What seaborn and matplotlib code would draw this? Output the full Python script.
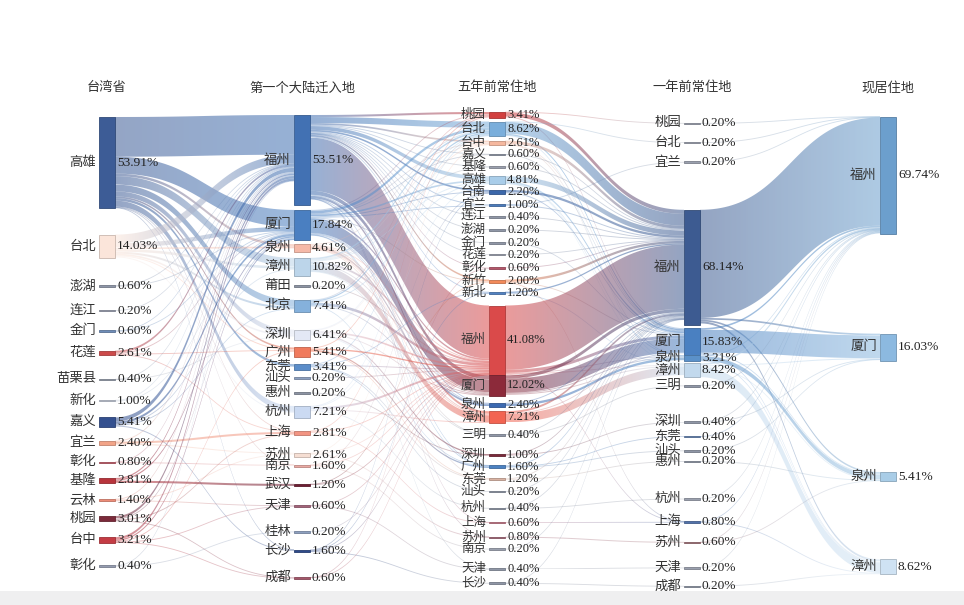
import numpy as np
import matplotlib
matplotlib.use('Agg')
import matplotlib.pyplot as plt
from matplotlib.patches import Polygon
import seaborn as sns

sns.set_theme(style='white')
plt.rcParams['font.family'] = ['Liberation Serif', 'Noto Sans CJK SC', 'DejaVu Sans']

# ========================
# DATA
# ========================

headers = ['台湾省', '第一个大陆迁入地', '五年前常住地', '一年前常住地', '现居住地']

# 1. 台湾省 (第二个彰化用 #2 区分)
names1 = ['高雄', '台北', '澎湖', '连江', '金门', '花莲', '苗栗县', '新化', '嘉义', '宜兰',
          '彰化', '基隆', '云林', '桃园', '台中', '彰化#2']
vals1 = [53.91, 14.03, 0.60, 0.20, 0.60, 2.61, 0.40, 1.00, 5.41, 2.40,
         0.80, 2.81, 1.40, 3.01, 3.21, 0.40]
colors1 = ['#3d5c96', '#fbe5da', '#8e96a8', '#9aa0b0', '#6f8db8', '#cc4a4a', '#959cab', '#c3cbd9',
           '#34508f', '#f2a488', '#c25a68', '#b8343c', '#ec8c78', '#7b2a3a', '#c43c44', '#959cb0']

# 2. 第一个大陆迁入地
names2 = ['福州', '厦门', '泉州', '漳州', '莆田', '北京', '深圳', '广州', '东莞', '汕头',
          '惠州', '杭州', '上海', '苏州', '南京', '武汉', '天津', '桂林', '长沙', '成都']
vals2 = [53.51, 17.84, 4.61, 10.82, 0.20, 7.41, 6.41, 5.41, 3.41, 0.20,
         0.20, 7.21, 2.81, 2.61, 1.60, 1.20, 0.60, 0.20, 1.60, 0.60]
colors2 = ['#4271b3', '#4a7fc1', '#f5b9a8', '#bcd5ea', '#8c93a3', '#85b1dc', '#e3e8f5', '#f07a5c',
           '#5b8dc9', '#8da0bf', '#8c93a3', '#cbdaf2', '#f29482', '#f5ded3', '#eaa9a3', '#6e1f33',
           '#a3647a', '#8da0bf', '#2f4b8a', '#a4576a']

# 3. 五年前常住地
names3 = ['桃园', '台北', '台中', '嘉义', '基隆', '高雄', '台南', '宜兰', '连江', '澎湖',
          '金门', '花莲', '彰化', '新竹', '新北', '福州', '厦门', '泉州', '漳州', '三明',
          '深圳', '广州', '东莞', '汕头', '杭州', '上海', '苏州', '南京', '天津', '长沙']
vals3 = [3.41, 8.62, 2.61, 0.60, 0.60, 4.81, 2.20, 1.00, 0.40, 0.20,
         0.20, 0.20, 0.60, 2.00, 1.20, 41.08, 12.02, 2.40, 7.21, 0.40,
         1.00, 1.60, 1.20, 0.20, 0.40, 0.60, 0.80, 0.20, 0.40, 0.40]
colors3 = ['#d2403f', '#7aaedb', '#f5b89f', '#8f96a6', '#9aa0ae', '#a9cde9', '#3b67aa', '#4b7bba',
           '#8f96a6', '#8f96a6', '#8f96a6', '#9aa0ae', '#b4566a', '#f28a5a', '#5282c2', '#da4a4a',
           '#8c2a3a', '#3b69b1', '#f26452', '#8f96a6', '#7b2a3b', '#4c82c2', '#d9b2a2', '#8f96a6',
           '#8f96a6', '#c47586', '#a56678', '#9aa0ae', '#8f96a6', '#8f96a6']

# 4. 一年前常住地
names4 = ['桃园', '台北', '宜兰', '福州', '厦门', '泉州', '漳州', '三明', '深圳', '东莞',
          '汕头', '惠州', '杭州', '上海', '苏州', '天津', '成都']
vals4 = [0.20, 0.20, 0.20, 68.14, 15.83, 3.21, 8.42, 0.20, 0.40, 0.40,
         0.20, 0.20, 0.20, 0.80, 0.60, 0.20, 0.20]
colors4 = ['#9aa0ae', '#9aa0ae', '#9aa0ae', '#3d5b91', '#4a80c1', '#5b91c9', '#c2d9ed', '#8f96a6',
           '#8f96a6', '#6282b2', '#8f96a6', '#8f96a6', '#9aa0ae', '#5272aa', '#a37279', '#9aa0ae',
           '#8f96a6']

# 5. 现居住地
names5 = ['福州', '厦门', '泉州', '漳州']
vals5 = [69.74, 16.03, 5.41, 8.62]
colors5 = ['#6c9fcd', '#8cb9e0', '#a9cde7', '#cfe2f3']

# 流向 (来源, 去向, %)
flows12 = [
    ('高雄', '福州', 23.5), ('高雄', '厦门', 10.0), ('高雄', '泉州', 1.5), ('高雄', '漳州', 5.0),
    ('高雄', '北京', 4.0), ('高雄', '深圳', 3.0), ('高雄', '广州', 1.0), ('高雄', '东莞', 1.5),
    ('高雄', '杭州', 3.5), ('高雄', '上海', 0.4), ('高雄', '南京', 0.2), ('高雄', '长沙', 0.2),
    ('台北', '福州', 5.0), ('台北', '厦门', 2.6), ('台北', '泉州', 1.0), ('台北', '漳州', 1.5),
    ('台北', '北京', 1.2), ('台北', '深圳', 1.0), ('台北', '广州', 0.6), ('台北', '杭州', 0.6),
    ('澎湖', '福州', 0.4), ('澎湖', '厦门', 0.2), ('连江', '福州', 0.2),
    ('金门', '厦门', 0.4), ('金门', '福州', 0.2),
    ('花莲', '福州', 1.2), ('花莲', '厦门', 0.6), ('花莲', '广州', 0.4), ('花莲', '上海', 0.4),
    ('苗栗县', '福州', 0.2), ('苗栗县', '深圳', 0.2), ('新化', '福州', 0.6), ('新化', '厦门', 0.4),
    ('嘉义', '福州', 2.4), ('嘉义', '厦门', 1.4), ('嘉义', '漳州', 0.6), ('嘉义', '北京', 0.4),
    ('嘉义', '长沙', 0.6),
    ('宜兰', '上海', 1.2), ('宜兰', '福州', 0.6), ('宜兰', '苏州', 0.6),
    ('彰化', '福州', 0.4), ('彰化', '南京', 0.4),
    ('基隆', '武汉', 1.2), ('基隆', '福州', 0.8), ('基隆', '厦门', 0.8),
    ('云林', '福州', 0.6), ('云林', '苏州', 0.4), ('云林', '天津', 0.4),
    ('桃园', '福州', 1.4), ('桃园', '厦门', 0.6), ('桃园', '上海', 0.6), ('桃园', '成都', 0.4),
    ('台中', '福州', 1.4), ('台中', '厦门', 0.8), ('台中', '广州', 0.6), ('台中', '天津', 0.2),
    ('台中', '成都', 0.2),
    ('彰化#2', '福州', 0.2), ('彰化#2', '桂林', 0.2),
]

flows23 = [
    ('福州', '桃园', 1.2), ('福州', '台北', 3.6), ('福州', '台中', 1.0), ('福州', '嘉义', 0.4),
    ('福州', '基隆', 0.4), ('福州', '高雄', 2.2), ('福州', '台南', 1.0), ('福州', '宜兰', 0.6),
    ('福州', '连江', 0.4), ('福州', '澎湖', 0.2), ('福州', '金门', 0.2), ('福州', '花莲', 0.2),
    ('福州', '彰化', 0.4), ('福州', '新竹', 1.0), ('福州', '新北', 0.6), ('福州', '福州', 31.4),
    ('福州', '厦门', 2.4), ('福州', '泉州', 0.6), ('福州', '漳州', 1.4), ('福州', '广州', 0.2),
    ('福州', '上海', 0.2), ('福州', '苏州', 0.2),
    ('厦门', '福州', 1.0), ('厦门', '台北', 1.6), ('厦门', '桃园', 0.6), ('厦门', '台中', 0.4),
    ('厦门', '嘉义', 0.2), ('厦门', '高雄', 1.0), ('厦门', '台南', 0.4), ('厦门', '宜兰', 0.4),
    ('厦门', '新竹', 0.4), ('厦门', '厦门', 7.6), ('厦门', '泉州', 0.4), ('厦门', '漳州', 0.6),
    ('厦门', '广州', 0.2), ('厦门', '东莞', 0.2),
    ('泉州', '福州', 0.4), ('泉州', '台北', 0.4), ('泉州', '厦门', 0.6), ('泉州', '泉州', 1.2),
    ('泉州', '漳州', 0.4), ('泉州', '三明', 0.2),
    ('漳州', '福州', 1.2), ('漳州', '台北', 1.0), ('漳州', '台中', 0.4), ('漳州', '基隆', 0.2),
    ('漳州', '高雄', 0.6), ('漳州', '厦门', 0.6), ('漳州', '漳州', 4.0), ('漳州', '三明', 0.2),
    ('莆田', '福州', 0.2),
    ('北京', '福州', 1.6), ('北京', '台北', 0.8), ('北京', '桃园', 0.4), ('北京', '高雄', 0.4),
    ('北京', '厦门', 0.4), ('北京', '天津', 0.2),
    ('深圳', '福州', 1.0), ('深圳', '台北', 0.4), ('深圳', '台中', 0.4), ('深圳', '厦门', 0.4),
    ('深圳', '深圳', 0.8), ('深圳', '广州', 0.4),
    ('广州', '福州', 0.8), ('广州', '桃园', 0.6), ('广州', '广州', 0.8), ('广州', '东莞', 0.4),
    ('东莞', '福州', 0.4), ('东莞', '台北', 0.4), ('东莞', '新北', 0.2), ('东莞', '东莞', 0.6),
    ('东莞', '汕头', 0.2),
    ('汕头', '福州', 0.2), ('惠州', '深圳', 0.2),
    ('杭州', '福州', 1.2), ('杭州', '台北', 0.4), ('杭州', '高雄', 0.4), ('杭州', '漳州', 0.6),
    ('杭州', '杭州', 0.4),
    ('上海', '福州', 0.4), ('上海', '桃园', 0.4), ('上海', '上海', 0.4),
    ('苏州', '福州', 0.2), ('苏州', '台中', 0.4), ('苏州', '苏州', 0.6),
    ('南京', '福州', 0.2), ('南京', '台南', 0.4), ('南京', '南京', 0.2),
    ('武汉', '福州', 0.2), ('武汉', '新竹', 0.4),
    ('天津', '福州', 0.2), ('天津', '天津', 0.2), ('桂林', '福州', 0.2),
    ('长沙', '福州', 0.2), ('长沙', '台南', 0.4), ('长沙', '新北', 0.4), ('长沙', '长沙', 0.4),
    ('成都', '福州', 0.2), ('成都', '彰化', 0.2),
]

flows34 = [
    ('桃园', '福州', 2.4), ('桃园', '厦门', 0.6), ('桃园', '桃园', 0.2),
    ('台北', '福州', 7.0), ('台北', '厦门', 0.8), ('台北', '漳州', 0.4), ('台北', '台北', 0.2),
    ('台中', '福州', 1.8), ('台中', '厦门', 0.4), ('台中', '泉州', 0.2),
    ('嘉义', '福州', 0.4), ('嘉义', '厦门', 0.2), ('基隆', '福州', 0.6),
    ('高雄', '福州', 3.0), ('高雄', '厦门', 1.0), ('高雄', '泉州', 0.2), ('高雄', '漳州', 0.4),
    ('台南', '福州', 1.4), ('台南', '厦门', 0.6),
    ('宜兰', '福州', 0.6), ('宜兰', '宜兰', 0.2), ('连江', '福州', 0.4), ('澎湖', '福州', 0.2),
    ('金门', '厦门', 0.2), ('花莲', '福州', 0.2), ('彰化', '福州', 0.4),
    ('新竹', '福州', 1.4), ('新竹', '厦门', 0.4), ('新竹', '上海', 0.2),
    ('新北', '福州', 0.8), ('新北', '漳州', 0.2),
    ('福州', '福州', 38.0), ('福州', '厦门', 1.8), ('福州', '泉州', 0.4), ('福州', '漳州', 0.4),
    ('福州', '上海', 0.2),
    ('厦门', '福州', 2.0), ('厦门', '厦门', 8.4), ('厦门', '泉州', 0.6), ('厦门', '漳州', 0.6),
    ('泉州', '福州', 0.6), ('泉州', '泉州', 1.4),
    ('漳州', '福州', 1.2), ('漳州', '厦门', 0.4), ('漳州', '漳州', 5.0),
    ('三明', '福州', 0.2), ('三明', '三明', 0.2),
    ('深圳', '福州', 0.4), ('深圳', '深圳', 0.4),
    ('广州', '福州', 0.6), ('广州', '东莞', 0.4), ('广州', '汕头', 0.2),
    ('东莞', '福州', 0.6), ('东莞', '惠州', 0.2), ('汕头', '福州', 0.2),
    ('杭州', '杭州', 0.2), ('杭州', '福州', 0.2),
    ('上海', '上海', 0.4), ('苏州', '苏州', 0.6), ('南京', '福州', 0.2),
    ('天津', '天津', 0.2), ('长沙', '福州', 0.2), ('长沙', '成都', 0.2),
]

flows45 = [
    ('福州', '福州', 64.0), ('福州', '厦门', 1.0), ('福州', '泉州', 1.0), ('福州', '漳州', 1.2),
    ('桃园', '福州', 0.2), ('台北', '福州', 0.2), ('宜兰', '福州', 0.2),
    ('厦门', '厦门', 13.5), ('厦门', '福州', 1.0), ('厦门', '泉州', 0.6), ('厦门', '漳州', 0.6),
    ('泉州', '泉州', 2.6), ('泉州', '福州', 0.4), ('泉州', '漳州', 0.2),
    ('漳州', '漳州', 6.0), ('漳州', '福州', 1.0), ('漳州', '厦门', 0.6), ('漳州', '泉州', 0.6),
    ('三明', '福州', 0.2), ('深圳', '福州', 0.2), ('深圳', '厦门', 0.2), ('东莞', '福州', 0.4),
    ('汕头', '厦门', 0.2), ('惠州', '泉州', 0.2), ('杭州', '福州', 0.2),
    ('上海', '福州', 0.4), ('上海', '漳州', 0.4), ('苏州', '福州', 0.4), ('苏州', '泉州', 0.2),
    ('天津', '福州', 0.2), ('成都', '漳州', 0.2),
]

# ========================
# LAYOUT (像素坐标)
# ========================
K = 1.69          # 每 1% 的高度
BAR_W = 16
col_left = [99 + 195 * i for i in range(5)]
col_left[4] += 1

start_top = [117, 115, 112, 123.2, 116.5]
gaps = [
    [0, 26.5, 27, 24, 20, 19, 24, 20, 16, 14, 17, 15, 16, 15, 16, 23],
    [0, 4.5, 4, 6, 9.7, 13.6, 17.3, 7, 7.5, 8, 14.7, 12.7, 12.5, 17.4, 7.4, 16.6, 19.5, 25.3, 17.5, 25.1],
    [0, 3.8, 4.5, 8.8, 11.5, 8.9, 5.5, 10.8, 10.4, 12.5, 12.6, 11.6, 12.8, 10.8, 8.8, 11.8, 0.3, 7.2,
     4.4, 11.1, 18.9, 9.5, 10.3, 11.2, 16.1, 13.6, 13.4, 11.0, 19.5, 13.4],
    [0, 19, 19.2, 47.4, 3.2, 0.5, 2.4, 8.2, 35.8, 13.7, 13.8, 10.3, 37.2, 22.1, 19.2, 24.9, 18],
    [0, 99.3, 111.3, 78.2],
]

columns = [(names1, vals1, colors1), (names2, vals2, colors2), (names3, vals3, colors3),
           (names4, vals4, colors4), (names5, vals5, colors5)]
all_flows = [flows12, flows23, flows34, flows45]

nodes = []
for ci, (names, vals, cols) in enumerate(columns):
    y = start_top[ci]
    col = {}
    for name, v, c, g in zip(names, vals, cols, gaps[ci]):
        y += g
        col[name] = {'top': y, 'h': v * K, 'v': v, 'color': c, 'out': 0.0, 'in': 0.0}
        y += v * K
    nodes.append(col)

fig = plt.figure(figsize=(9.64, 6.05), dpi=100)
ax = fig.add_axes([0, 0, 1, 1])
ax.set_xlim(0, 964)
ax.set_ylim(605, 0)
ax.set_autoscale_on(False)
ax.axis('off')


def draw_link(xs, s0, s1, xt, t0, t1, c0, c1, alpha):
    t = np.linspace(0, 1, 60)
    xm = (xs + xt) / 2
    bx = (1 - t) ** 3 * xs + 3 * (1 - t) ** 2 * t * xm + 3 * (1 - t) * t ** 2 * xm + t ** 3 * xt
    e = 3 * t ** 2 - 2 * t ** 3
    top = s0 + (t0 - s0) * e
    bot = s1 + (t1 - s1) * e
    pts = np.vstack([np.column_stack([bx, top]), np.column_stack([bx[::-1], bot[::-1]])])
    patch = Polygon(pts, closed=True, fc='none', ec='none')
    ax.add_patch(patch)
    grad = np.array(sns.blend_palette([c0, c1], 64))[:, :3]
    img = np.ones((1, 64, 4))
    img[0, :, :3] = grad
    img[0, :, 3] = alpha
    im = ax.imshow(img, extent=[xs, xt, max(bot.max(), top.max()), min(top.min(), bot.min())],
                   aspect='auto', interpolation='bilinear', zorder=1)
    im.set_clip_path(patch)


for si, flows in enumerate(all_flows):
    src, tgt = nodes[si], nodes[si + 1]
    # 来源端按去向位置排序, 去向端按来源位置排序
    pos_s = {}
    for f in sorted(flows, key=lambda f: (src[f[0]]['top'], tgt[f[1]]['top'])):
        n = src[f[0]]
        pos_s[f] = n['top'] + n['out']
        n['out'] += f[2] * K
    pos_t = {}
    for f in sorted(flows, key=lambda f: (tgt[f[1]]['top'], src[f[0]]['top'])):
        n = tgt[f[1]]
        pos_t[f] = n['top'] + n['in']
        n['in'] += f[2] * K
    xs = col_left[si] + BAR_W
    xt = col_left[si + 1]
    for f in flows:
        w = f[2] * K
        s0, t0 = pos_s[f], pos_t[f]
        s1, t1 = s0 + w, t0 + w
        if w < 0.9:
            pad = (0.9 - w) / 2
            s0, s1, t0, t1 = s0 - pad, s1 + pad, t0 - pad, t1 + pad
        alpha = 0.55 if f[2] > 0.6 else 0.33
        draw_link(xs, s0, s1, xt, t0, t1, src[f[0]]['color'], tgt[f[1]]['color'], alpha)

# 节点和标签
for ci, col in enumerate(nodes):
    x0 = col_left[ci]
    fs = 9 if ci == 2 else 9.6
    for name, n in col.items():
        h = max(n['h'], 1.5)
        top = n['top'] + n['h'] / 2 - h / 2
        edge = tuple(np.array(matplotlib.colors.to_rgb(n['color'])) * 0.8)
        ax.bar(x0 + BAR_W / 2, h, bottom=top, width=BAR_W, color=n['color'],
               edgecolor=edge, linewidth=0.6, zorder=3)
        yc = n['top'] + n['h'] / 2
        ax.text(x0 - 3, yc, name.split('#')[0], ha='right', va='center', fontsize=fs,
                color='#333333', zorder=4)
        ax.text(x0 + BAR_W + 2, yc, f"{n['v']:.2f}%", ha='left', va='center', fontsize=fs,
                color='#222222', zorder=4)
    ax.text(x0 + BAR_W / 2, 88, headers[ci], ha='center', va='center', fontsize=9.5,
            color='#333333', zorder=4)

# 底部灰条
ax.axhspan(591, 605, color='#efeff0', zorder=10, lw=0)

fig.savefig('out.png', dpi=100)
